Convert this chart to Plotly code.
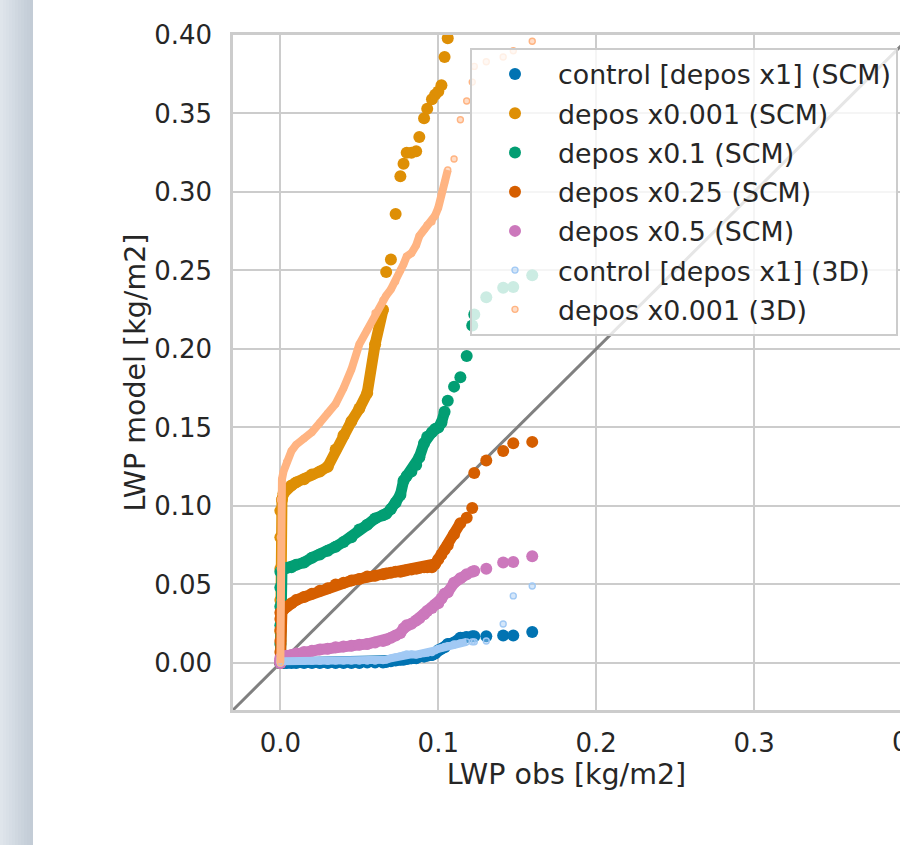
import plotly.graph_objects as go

# ---- data (quantiles) ----
obs = [0, 0, 0, 0, 0, 0, 0.001, 0.002, 0.004, 0.007, 0.010, 0.015, 0.020, 0.025, 0.030,
       0.035, 0.040, 0.045, 0.050, 0.055, 0.060, 0.065, 0.067, 0.070, 0.073, 0.076, 0.078,
       0.080, 0.083, 0.086, 0.088, 0.091, 0.093, 0.096, 0.098, 0.100, 0.102, 0.104, 0.106,
       0.110, 0.114, 0.118, 0.1215, 0.1228, 0.1304, 0.1411, 0.1475, 0.1595]

scm_control = [0, 0, 0, 0, 0, 0, 0, 0, 0, 0, 0, 0, 0, 0, 0, 0, 0, 0,
               0, 0.0003, 0.0003, 0.0003, 0.0005, 0.001, 0.0015, 0.002, 0.002, 0.0025, 0.003, 0.003,
               0.004, 0.004, 0.0045, 0.005, 0.006, 0.008, 0.009, 0.010, 0.012, 0.013, 0.016, 0.0165,
               0.017, 0.017, 0.017, 0.0175, 0.0175, 0.0197]
scm_x0001 = [0.0, 0.02, 0.04, 0.06, 0.08, 0.097, 0.104, 0.108, 0.111, 0.113, 0.115, 0.117,
             0.120, 0.122, 0.125, 0.136, 0.145, 0.154, 0.162, 0.172, 0.203, 0.225, 0.249, 0.257,
             0.286, 0.310, 0.318, 0.325, 0.325, 0.326, 0.335, 0.347, 0.353, 0.359, 0.362, 0.364,
             0.368, 0.386, 0.398, 0.412, 0.425, 0.44, 0.45, 0.46, 0.48, 0.50, 0.51, 0.53]
scm_x01 = [0.0, 0.012, 0.024, 0.036, 0.048, 0.058, 0.059, 0.060, 0.0605, 0.061, 0.0625, 0.064,
           0.067, 0.069, 0.0715, 0.074, 0.077, 0.080, 0.085, 0.088, 0.092, 0.094, 0.095, 0.098,
           0.102, 0.107, 0.116, 0.119, 0.122, 0.126, 0.131, 0.140, 0.144, 0.147, 0.149, 0.150,
           0.153, 0.160, 0.167, 0.176, 0.182, 0.1955, 0.215, 0.222, 0.233, 0.239, 0.2395, 0.247]
scm_x025 = [0.0, 0.007, 0.014, 0.021, 0.028, 0.032, 0.033, 0.034, 0.036, 0.038, 0.040, 0.042,
            0.044, 0.046, 0.0475, 0.050, 0.051, 0.0525, 0.0535, 0.055, 0.0555, 0.0565, 0.057, 0.0575,
            0.058, 0.058, 0.0585, 0.059, 0.0595, 0.060, 0.0605, 0.061, 0.061, 0.061, 0.063, 0.066,
            0.069, 0.072, 0.075, 0.082, 0.089, 0.0924, 0.0987, 0.121, 0.129, 0.135, 0.140, 0.1408]
scm_x05 = [0.0, 0.0, 0.001, 0.001, 0.002, 0.003, 0.0035, 0.004, 0.0045, 0.005, 0.006, 0.007,
           0.0078, 0.0085, 0.009, 0.010, 0.0105, 0.011, 0.0115, 0.012, 0.013, 0.014, 0.0146, 0.016,
           0.0175, 0.019, 0.022, 0.024, 0.025, 0.027, 0.0285, 0.031, 0.033, 0.035, 0.037, 0.038,
           0.041, 0.044, 0.045, 0.051, 0.054, 0.0565, 0.058, 0.0586, 0.060, 0.064, 0.0643, 0.068]
d3_control = [0.0, 0.0, 0.0, 0.0005, 0.001, 0.001, 0.001, 0.001, 0.001, 0.001, 0.001, 0.001,
              0.001, 0.001, 0.001, 0.0012, 0.0012, 0.0012, 0.0012, 0.0012, 0.0012, 0.0015, 0.002, 0.003,
              0.0038, 0.0045, 0.005, 0.0057, 0.0055, 0.0052, 0.0055, 0.006, 0.0062, 0.0066, 0.008, 0.009,
              0.0095, 0.0105, 0.011, 0.012, 0.0127, 0.0134, 0.0134, 0.0134, 0.014, 0.0248, 0.0427, 0.049]
d3_x0001 = [0.0, 0.02, 0.04, 0.06, 0.08, 0.104, 0.117, 0.122, 0.128, 0.135, 0.139, 0.143,
            0.147, 0.153, 0.159, 0.165, 0.175, 0.187, 0.203, 0.212, 0.223, 0.231, 0.234, 0.238,
            0.243, 0.250, 0.254, 0.259, 0.261, 0.266, 0.272, 0.276, 0.279, 0.281, 0.285, 0.290,
            0.299, 0.306, 0.314, 0.321, 0.346, 0.358, 0.370, 0.380, 0.383, 0.386, 0.390, 0.396]

x_ticks = [0.0, 0.1, 0.2, 0.3]
y_ticks = [0.00, 0.05, 0.10, 0.15, 0.20, 0.25, 0.30, 0.35, 0.40]

# name, values, colour, kind, number of leading points drawn as a continuous band
series = [
    ("control [depos x1] (SCM)", scm_control, "#0173b2", "scm", 42),
    ("depos x0.001 (SCM)", scm_x0001, "#de8f05", "scm", 22),
    ("depos x0.1 (SCM)", scm_x01, "#029e73", "scm", 38),
    ("depos x0.25 (SCM)", scm_x025, "#d55e00", "scm", 41),
    ("depos x0.5 (SCM)", scm_x05, "#cc78bc", "scm", 42),
    ("control [depos x1] (3D)", d3_control, "#a1c9f4", "3d", 42),
    ("depos x0.001 (3D)", d3_x0001, "#ffb482", "3d", 39),
]

FONT = "DejaVu Sans, Verdana, sans-serif"
TXT = "#262626"
GRID = "#cccccc"

fig = go.Figure()

# 1:1 line
fig.add_trace(go.Scatter(x=[-0.03, 0.45], y=[-0.03, 0.45], mode="lines",
                         line=dict(color="#808080", width=3),
                         showlegend=False, hoverinfo="skip"))


def rgba(hexc, a):
    h = hexc.lstrip("#")
    return "rgba(%d,%d,%d,%.2f)" % (int(h[0:2], 16), int(h[2:4], 16), int(h[4:6], 16), a)


for i, (name, vals, col, kind, n) in enumerate(series):
    if kind == "scm":
        lw, msize = 11, 12
        marker = dict(color=col, size=msize, line=dict(width=0))
    else:
        lw, msize = 8, 6
        marker = dict(color=rgba(col, 0.45), size=msize, line=dict(color=col, width=1.4))
    fig.add_trace(go.Scatter(x=obs[:n], y=vals[:n], mode="lines",
                             line=dict(color=col, width=lw),
                             legendgroup="g%d" % i, showlegend=False, hoverinfo="skip"))
    fig.add_trace(go.Scatter(x=obs, y=vals, mode="markers", name=name,
                             marker=marker, legendgroup="g%d" % i))

# left page strip (gradient)
strip_cols = ["#dfe5eb", "#dce2e9", "#d9e0e7", "#d6dde5", "#d3dbe3", "#d0d8e0",
              "#cdd5de", "#cad3dc", "#c7d0da", "#c5ced8", "#c3ccd6"]
W_PLOT = 667.0
H_PLOT = 675.0
for k, c in enumerate(strip_cols):
    x0 = (k * 3 - 233) / W_PLOT
    x1 = ((k + 1) * 3 - 233) / W_PLOT
    fig.add_shape(type="rect", xref="paper", yref="paper", x0=x0, x1=x1,
                  y0=-0.21, y1=1.06, fillcolor=c, line=dict(width=0), layer="below")

# partially visible 0.4 tick label at right edge
fig.add_annotation(xref="paper", yref="paper", x=(912 - 233) / W_PLOT, y=-(742 - 710) / H_PLOT,
                   text="0.4", showarrow=False, font=dict(family=FONT, size=26, color=TXT),
                   xanchor="center", yanchor="middle")

fig.update_layout(
    template="none",
    width=900, height=845,
    margin=dict(l=233, r=0, t=35, b=135, pad=0),
    paper_bgcolor="white", plot_bgcolor="white",
    font=dict(family=FONT, size=26, color=TXT),
    showlegend=True,
    legend=dict(x=(470 - 233) / W_PLOT, y=1 - (48 - 35) / H_PLOT, xanchor="left", yanchor="top",
                bgcolor="rgba(255,255,255,0.8)", bordercolor="#cccccc", borderwidth=2,
                font=dict(family=FONT, size=26.8, color=TXT),
                itemwidth=76, tracegroupgap=1.4, traceorder="grouped"),
    xaxis=dict(range=[-0.03, (900 - 280) / 1580.0], tickvals=x_ticks,
               ticktext=["%.1f" % v for v in x_ticks],
               showgrid=True, gridcolor=GRID, gridwidth=2, zeroline=False,
               showline=True, linecolor=GRID, linewidth=2.5, mirror=True,
               ticks="", ticklabelstandoff=8, automargin=False,
               tickfont=dict(family=FONT, size=26, color=TXT),
               title=dict(text="LWP obs [kg/m2]", font=dict(family=FONT, size=28.5, color=TXT),
                          standoff=6)),
    yaxis=dict(range=[-0.03, 0.40], tickvals=y_ticks,
               ticktext=["%.2f" % v for v in y_ticks],
               showgrid=True, gridcolor=GRID, gridwidth=2, zeroline=False,
               showline=True, linecolor=GRID, linewidth=2.5, mirror=False,
               ticks="", ticklabelstandoff=13, automargin=False,
               tickfont=dict(family=FONT, size=26, color=TXT),
               title=dict(text="LWP model [kg/m2]", font=dict(family=FONT, size=28.5, color=TXT),
                          standoff=1)),
)

fig.write_html("out.html")
